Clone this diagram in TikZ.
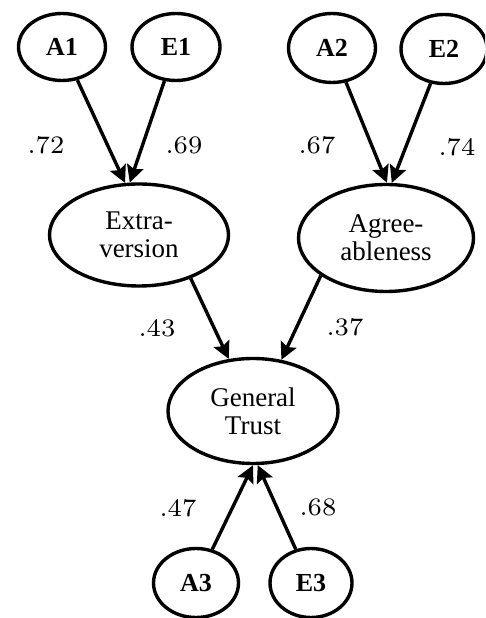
\documentclass[tikz,border=0pt]{standalone}
\usepackage{fontspec}
\newfontfamily\tnr{Liberation Serif}
\usetikzlibrary{arrows.meta,shapes.geometric}
\newcommand\coefnum[1]{\scalebox{3.6}{\fontsize{7}{8}\selectfont #1}}

\begin{document}
\begin{tikzpicture}[x=1pt,y=1pt,
  latent/.style={draw,ellipse,line width=3.4pt,inner sep=0pt,align=center,
    font=\tnr\fontsize{27}{28}\selectfont},
  indic/.style={latent,font=\tnr\bfseries\fontsize{26}{28}\selectfont},
  path/.style={line width=3.4pt,-{Stealth[length=17pt,width=17pt,inset=3pt]}},
  coef/.style={inner sep=0pt}]

  \useasboundingbox (0,0) rectangle (485,618);
  \clip (0,0) rectangle (485,618);

  \draw (62,571) node[indic,minimum width=87pt,minimum height=67pt] (A1) {A1};
  \draw (176,571) node[indic,minimum width=88pt,minimum height=67pt] (E1) {E1};
  \draw (332,570) node[indic,minimum width=87pt,minimum height=69pt] (A2) {A2};
  \draw (444,569) node[indic,minimum width=86pt,minimum height=69pt] (E2) {E2};
  \draw (196,35) node[indic,minimum width=85pt,minimum height=69pt] (A3) {A3};
  \draw (311,35) node[indic,minimum width=82pt,minimum height=69pt] (E3) {E3};

  \draw (139,383) node[latent,minimum width=179pt,minimum height=102pt] (ext) {Extra-\\version};
  \draw (386,380) node[latent,minimum width=175pt,minimum height=107pt] (agr) {Agree-\\ableness};
  \draw (253,207) node[latent,minimum width=170pt,minimum height=105pt] (gt) {General\\Trust};

  \draw[path] (A1) -- (ext.105);
  \draw[path] (E1) -- (ext.100);
  \draw[path] (A2) -- (agr.89);
  \draw[path] (E2) -- (agr.84);
  \draw[path] (ext.-40) -- (gt.115);
  \draw[path] (agr.-150) -- (gt.61);
  \draw[path] (A3) -- (gt.-90);
  \draw[path] (E3) -- (gt.-85);

  \node[coef] (c1) at (46,473) {\coefnum{.72}};
  \node[coef] (c2) at (184,473) {\coefnum{.69}};
  \node[coef] (c3) at (317,473) {\coefnum{.67}};
  \node[coef] (c4) at (457,471) {\coefnum{.74}};
  \node[coef] (c5) at (157,290) {\coefnum{.43}};
  \node[coef] (c6) at (345,291) {\coefnum{.37}};
  \node[coef] (c7) at (178,110) {\coefnum{.47}};
  \node[coef] (c8) at (318,111) {\coefnum{.68}};
\end{tikzpicture}
\end{document}
